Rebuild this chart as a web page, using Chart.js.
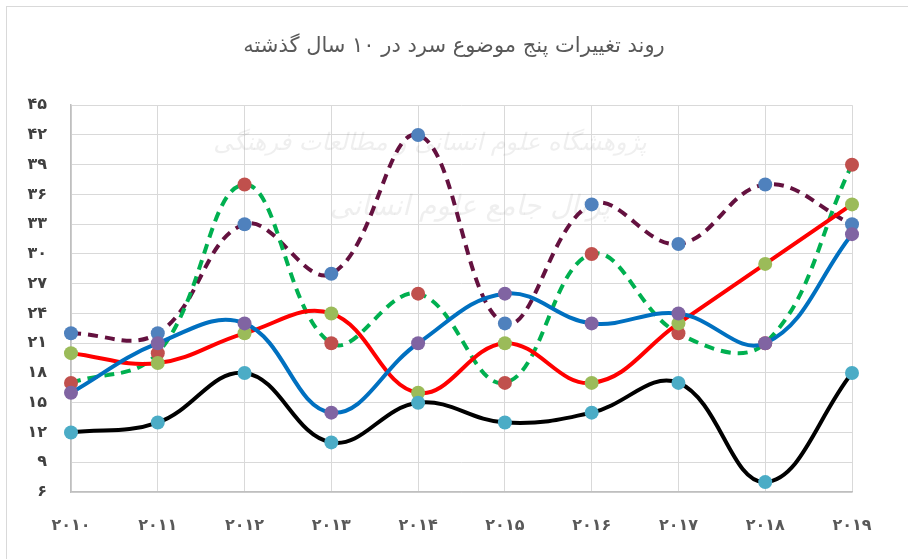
<!DOCTYPE html>
<html>
<head>
<meta charset="utf-8">
<script src="https://cdn.jsdelivr.net/npm/chart.js@4.4.1/dist/chart.umd.min.js"></script>
<style>
  html, body { margin: 0; padding: 0; background: #fff; }
  canvas { display: block; }
</style>
</head>
<body>
<canvas id="myChart" width="908" height="559"></canvas>
<script>
const years = ["۲۰۱۰", "۲۰۱۱", "۲۰۱۲", "۲۰۱۳", "۲۰۱۴", "۲۰۱۵", "۲۰۱۶", "۲۰۱۷", "۲۰۱۸", "۲۰۱۹"];

const topic1 = [22, 22, 33, 28, 42, 23, 35, 31, 37, 33];
const topic2 = [17, 20, 37, 21, 26, 17, 30, 22, 21, 39];
const topic3 = [20, 19, 22, 24, 16, 21, 17, 23, 29, 35];
const topic4 = [16, 21, 23, 14, 21, 26, 23, 24, 21, 32];
const topic5 = [12, 13, 18, 11, 15, 13, 14, 17, 7, 18];

const yMin = 6;
const yMax = 45;
const yStep = 3;

const titleText = "روند تغییرات پنج موضوع سرد در ۱۰ سال گذشته";

function faDigits(n) {
  return String(n).replace(/\d/g, (d) => "۰۱۲۳۴۵۶۷۸۹"[d]);
}

Chart.defaults.font.family = "'DejaVu Sans', sans-serif";
Chart.defaults.color = "#595959";

// light frame around the chart plus the faint watermark text
const backdrop = {
  id: "backdrop",
  beforeDraw(chart) {
    const c = chart.ctx;
    c.save();
    c.strokeStyle = "#d9d9d9";
    c.lineWidth = 1;
    c.strokeRect(6.5, 6.5, 940, 600);
    c.restore();
  },
  beforeDatasetsDraw(chart) {
    const c = chart.ctx;
    c.save();
    c.fillStyle = "rgba(120,120,120,0.12)";
    c.textAlign = "center";
    c.font = "italic 24px 'DejaVu Sans', sans-serif";
    c.fillText("پژوهشگاه علوم انسانی و مطالعات فرهنگی", 430, 150);
    c.font = "italic 28px 'DejaVu Sans', sans-serif";
    c.fillText("پرتال جامع علوم انسانی", 470, 215);
    c.restore();
  },
};

function line(label, data, color, marker, dashed) {
  return {
    label: label,
    data: data,
    borderColor: color,
    borderWidth: 4,
    borderDash: dashed ? [10, 7] : [],
    backgroundColor: marker,
    pointBackgroundColor: marker,
    pointBorderColor: marker,
    pointBorderWidth: 0,
    pointRadius: 7,
    tension: 0.4,
    fill: false,
  };
}

const ctx = document.getElementById("myChart").getContext("2d");
const myChart = new Chart(ctx, {
  type: "line",
  data: {
    labels: years,
    datasets: [
      line("موضوع ۵", topic5, "#000000", "#4BACC6", false),
      line("موضوع ۴", topic4, "#0070C0", "#8064A2", false),
      line("موضوع ۳", topic3, "#FF0000", "#9BBB59", false),
      line("موضوع ۲", topic2, "#00B050", "#C0504D", true),
      line("موضوع ۱", topic1, "#64113F", "#4F81BD", true),
    ],
  },
  options: {
    responsive: false,
    animation: false,
    layout: {
      padding: 0,
    },
    plugins: {
      legend: { display: false },
      tooltip: { enabled: false },
      title: {
        display: true,
        text: titleText,
        color: "#595959",
        font: { size: 21, weight: "normal" },
        padding: { top: 34, bottom: 46 },
      },
    },
    scales: {
      x: {
        offset: false,
        grid: { color: "#d9d9d9", lineWidth: 1, drawTicks: false },
        border: { color: "#bfbfbf", width: 1.5 },
        ticks: {
          color: "#595959",
          font: { size: 16, weight: "bold" },
          padding: 24,
          maxRotation: 0,
        },
        afterFit(scale) {
          scale.height = 67;
        },
      },
      y: {
        min: yMin,
        max: yMax,
        grid: { color: "#d9d9d9", lineWidth: 1, drawTicks: false },
        border: { color: "#bfbfbf", width: 1.5 },
        ticks: {
          stepSize: yStep,
          color: "#404040",
          font: { size: 16, weight: "bold" },
          padding: 24,
          callback: (v) => faDigits(v),
        },
        afterFit(scale) {
          scale.width = 71;
        },
      },
      // empty right-hand strip so the title stays centred on the page
      yRight: {
        position: "right",
        display: true,
        min: yMin,
        max: yMax,
        grid: { display: false },
        border: { display: false },
        ticks: { display: false },
        afterFit(scale) {
          scale.width = 56;
        },
      },
    },
  },
  plugins: [backdrop],
});
</script>
</body>
</html>
